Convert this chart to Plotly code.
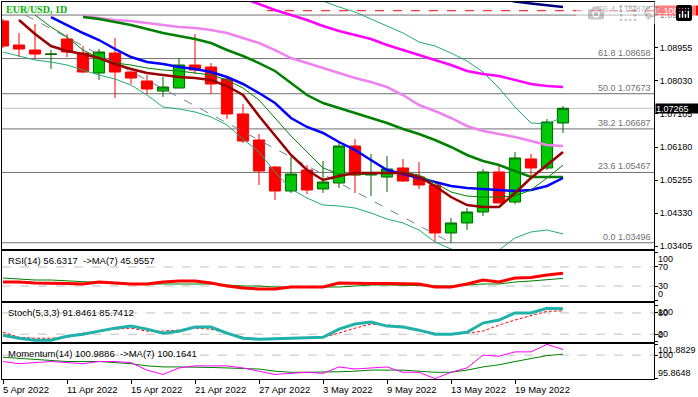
import plotly.graph_objects as go

# ---------------- data ----------------
dates = ["5 Apr 2022", "6 Apr 2022", "7 Apr 2022", "8 Apr 2022",
         "11 Apr 2022", "12 Apr 2022", "13 Apr 2022", "14 Apr 2022", "15 Apr 2022",
         "18 Apr 2022", "19 Apr 2022", "20 Apr 2022", "21 Apr 2022", "22 Apr 2022",
         "25 Apr 2022", "26 Apr 2022", "27 Apr 2022", "28 Apr 2022", "29 Apr 2022",
         "2 May 2022", "3 May 2022", "4 May 2022", "5 May 2022", "6 May 2022",
         "9 May 2022", "10 May 2022", "11 May 2022", "12 May 2022", "13 May 2022",
         "16 May 2022", "17 May 2022", "18 May 2022", "19 May 2022", "20 May 2022",
         "23 May 2022", "24 May 2022"]

open_ = [1.09711, 1.09038, 1.08898, 1.08772, 1.09207, 1.08814, 1.08254, 1.08814, 1.08282,
         1.08030, 1.07749, 1.07833, 1.08478, 1.08422, 1.08086, 1.07105, 1.06376, 1.05619,
         1.04947, 1.05535, 1.05003, 1.05171, 1.06208, 1.05395, 1.05339, 1.05591, 1.05339,
         1.05115, 1.03770, 1.04050, 1.04358, 1.05479, 1.04638, 1.05844, 1.05591, 1.06853]
high = [1.09767, 1.09375, 1.09627, 1.08898, 1.09347, 1.09010, 1.08926, 1.09235, 1.08310,
        1.08198, 1.08142, 1.08674, 1.09347, 1.08534, 1.08114, 1.07385, 1.06544, 1.05647,
        1.05900, 1.05675, 1.05788, 1.06292, 1.06404, 1.05984, 1.05928, 1.05844, 1.05760,
        1.05115, 1.04190, 1.04470, 1.05563, 1.05647, 1.06040, 1.05984, 1.06965, 1.07329]
low = [1.08954, 1.08702, 1.08646, 1.08366, 1.08702, 1.08254, 1.08058, 1.07553, 1.07946,
       1.07665, 1.07581, 1.07833, 1.08226, 1.07665, 1.06965, 1.06292, 1.05115, 1.04694,
       1.04891, 1.04863, 1.04891, 1.05031, 1.04891, 1.04806, 1.04919, 1.05199, 1.05003,
       1.03518, 1.03490, 1.03854, 1.04246, 1.04610, 1.04582, 1.05339, 1.05535, 1.06572]
close = [1.09010, 1.08926, 1.08786, 1.08786, 1.08842, 1.08282, 1.08842, 1.08282, 1.08114,
         1.07805, 1.07861, 1.08478, 1.08338, 1.07946, 1.07105, 1.06348, 1.05507, 1.04947,
         1.05423, 1.04975, 1.05199, 1.06208, 1.05395, 1.05451, 1.05563, 1.05227, 1.05115,
         1.03770, 1.04050, 1.04358, 1.05479, 1.04610, 1.05872, 1.05591, 1.06881, 1.07265]

ma_fast = [None, 1.09739, 1.09347, 1.09010, 1.08870, 1.08786, 1.08674, 1.08506, 1.08366,
           1.08254, 1.08198, 1.08142, 1.08114, 1.08058, 1.07889, 1.07637, 1.07049, 1.06516,
           1.05956, 1.05535, 1.05255, 1.05367, 1.05451, 1.05451, 1.05451, 1.05451, 1.05339,
           1.05087, 1.04778, 1.04554, 1.04498, 1.04498, 1.04891, 1.05311, 1.05675, 1.06040]
ma_thin = [None, None, 1.09879, 1.09543, 1.09263, 1.08898, 1.08674, 1.08534, 1.08478,
           1.08394, 1.08338, 1.08310, 1.08254, 1.08198, 1.08058, 1.07833, 1.07497, 1.06993,
           1.06488, 1.06040, 1.05591, 1.05423, 1.05395, 1.05423, 1.05451, 1.05479, 1.05395,
           1.05171, 1.04919, 1.04806, 1.04778, 1.04778, 1.04806, 1.04975, 1.05311, 1.05675]
ma_blue = [None, None, None, 1.09823, 1.09599, 1.09375, 1.09179, 1.08926, 1.08702,
           1.08562, 1.08506, 1.08422, 1.08366, 1.08282, 1.08142, 1.07946, 1.07693, 1.07413,
           1.06993, 1.06741, 1.06572, 1.06320, 1.06096, 1.05816, 1.05535, 1.05423, 1.05311,
           1.05199, 1.05087, 1.05031, 1.05003, 1.04975, 1.04947, 1.04975, 1.05087, 1.05311]
ma_mid = [None, None, None, None, None, 1.09823, 1.09767, 1.09683, 1.09599,
          1.09487, 1.09375, 1.09291, 1.09207, 1.09094, 1.08898, 1.08730, 1.08534, 1.08310,
          1.07974, 1.07637, 1.07413, 1.07273, 1.07133, 1.06993, 1.06853, 1.06685, 1.06544,
          1.06376, 1.06180, 1.05956, 1.05788, 1.05675, 1.05507, 1.05339, 1.05339, 1.05339]
ma_violet = [None, None, None, None, None, 1.09851, 1.09795, 1.09739, 1.09711,
             1.09655, 1.09599, 1.09543, 1.09515, 1.09459, 1.09375, 1.09235, 1.09094, 1.08898,
             1.08674, 1.08534, 1.08394, 1.08254, 1.08114, 1.08002, 1.07861, 1.07637, 1.07357,
             1.07189, 1.06993, 1.06769, 1.06629, 1.06544, 1.06460, 1.06348, 1.06236, 1.06208]
ma_magenta = [None] * 13 + [1.10692, 1.10524, 1.10356, 1.10188, 1.10019, 1.09879, 1.09739,
                            1.09571, 1.09431, 1.09319, 1.09207, 1.09038, 1.08898, 1.08758,
                            1.08618, 1.08478, 1.08310, 1.08226, 1.08170, 1.08058, 1.07946,
                            1.07889, 1.07861]
ma_navy = [None] * 31 + [1.10356, 1.10258, 1.10202, 1.10146, 1.10103]
bb_upper = [None] * 19 + [1.10384, 1.10272, 1.10103, 1.09963, 1.09767, 1.09571, 1.09375,
                          1.09122, 1.09010, 1.08814, 1.08590, 1.08282, 1.07833, 1.07301,
                          1.06853, 1.06825, 1.07021]
bb_lower = [1.08842, 1.08730, 1.08618, 1.08562, 1.08478, 1.08338, 1.08198, 1.08086, 1.07917,
            1.07637, 1.07301, 1.07245, 1.07161, 1.07021, 1.06797, 1.06404, 1.06040, 1.05479,
            1.05003, 1.04750, 1.04554, 1.04526, 1.04470, 1.04330, 1.04162, 1.04050, 1.03854,
            1.03518, 1.03321, 1.03153, 1.03153, 1.03293, 1.03630, 1.03798, 1.03854, 1.03742]

fib_levels = [0.0, 23.6, 38.2, 50.0, 61.8, 76.4]
fib_prices = [1.03496, 1.05467, 1.06687, 1.07673, 1.08658, 1.09878]
price_ticks = [1.09880, 1.08955, 1.08030, 1.07105, 1.06180, 1.05255, 1.04330, 1.03405]
current_price = 1.07265
alert_price = 1.10000
alert_start = 16.5
trend_x = [1.4, 28.0]
trend_y = [1.09878, 1.03496]

rsi = [38.4, 38.4, 36.3, 36.3, 35.3, 34.2, 38.4, 36.3, 34.2, 34.2, 38.4, 40.5, 40.5, 36.3,
       30.0, 25.8, 23.7, 23.7, 27.9, 27.9, 27.9, 36.3, 35.3, 35.3, 35.3, 34.2, 34.2, 27.9,
       27.9, 34.2, 42.6, 38.4, 46.8, 47.9, 53.2, 56.6317]
rsi_ma = [46.8, 44.7, 42.6, 42.6, 40.5, 38.4, 37.4, 36.3, 34.2, 34.2, 34.2, 34.2, 34.2, 34.2,
          32.1, 30.0, 30.0, 27.9, 27.9, 27.9, 27.9, 27.9, 30.0, 32.1, 32.1, 32.1, 31.0, 30.0,
          30.0, 32.1, 34.2, 34.2, 38.4, 40.5, 43.7, 45.9557]
rsi_levels = [70, 30]
rsi_labels = [100, 70, 30, 0]

stoch_k = [17.1, 8.6, 2.9, 2.9, 14.3, 20.0, 28.6, 37.1, 42.9, 34.3, 22.9, 28.6, 40.0, 40.0,
           22.9, 8.6, 5.7, 7.1, 8.6, 8.6, 11.4, 34.3, 48.6, 54.3, 42.9, 40.0, 31.4, 20.0,
           20.0, 25.7, 51.4, 60.0, 80.0, 80.0, 93.0, 91.8461]
stoch_d = [25.7, 11.4, 8.6, 8.6, 11.4, 22.9, 28.6, 34.3, 37.1, 28.6, 28.6, 31.4, 37.1, 34.3,
           22.9, 11.4, 5.7, 5.7, 8.6, 8.6, 11.4, 22.9, 37.1, 48.6, 45.7, 42.9, 31.4, 22.9,
           20.0, 22.9, 28.6, 45.7, 60.0, 71.4, 84.5, 85.7412]
stoch_levels = [80, 20]
stoch_labels = [100, 80, 20, 0]

mom = [98.87, 98.49, 98.68, 98.87, 98.68, 98.49, 98.87, 98.87, 98.68, 97.36, 96.60, 97.74,
       98.11, 98.11, 98.11, 97.74, 97.17, 96.60, 96.79, 96.98, 96.79, 97.92, 97.55, 97.74,
       97.92, 96.98, 96.98, 95.8648, 96.98, 97.74, 100.00, 99.81, 100.57, 100.57, 101.8829,
       100.9886]
mom_ma = [99.62, 99.43, 99.25, 99.06, 98.87, 98.87, 98.87, 98.68, 98.49, 98.11, 97.92, 97.92,
          97.92, 97.83, 97.74, 97.64, 97.55, 97.17, 96.98, 96.98, 96.98, 97.08, 97.17, 97.36,
          97.36, 97.36, 97.17, 96.98, 96.98, 97.36, 97.92, 98.30, 98.87, 99.43, 99.91, 100.1641]
mom_levels = [100]
mom_labels = ["101.8829", "100", "95.8648"]
mom_label_vals = [101.8829, 100, 95.8648]

# ---------------- figure ----------------
W, H = 698, 397
ML, MR, MT, MB = 2, 44, 2, 18
PH = H - MT - MB


def dom(top_px, bot_px):
    return [(H - MB - bot_px) / PH, (H - MB - top_px) / PH]


n = len(dates)
idx = list(range(n))
label_idx = idx[::4]
XR = [-0.0625, 40.6875]
FONT = "Liberation Sans"

fig = go.Figure()

fig.add_trace(go.Candlestick(
    x=idx, open=open_, high=high, low=low, close=close,
    increasing=dict(line=dict(color="#006400", width=1), fillcolor="#00c800"),
    decreasing=dict(line=dict(color="#ff0000", width=1), fillcolor="#ff0000"),
    whiskerwidth=0, hoverinfo="skip", showlegend=False, xaxis="x", yaxis="y"))


def line(y, color, width, dash="solid", xa="x", ya="y", x=None):
    fig.add_trace(go.Scatter(x=idx if x is None else x, y=y, mode="lines",
                             line=dict(color=color, width=width, dash=dash),
                             hoverinfo="skip", showlegend=False, connectgaps=False,
                             xaxis=xa, yaxis=ya))


line(bb_upper, "#22aa77", 1)
line(bb_lower, "#22aa77", 1)
line(trend_y, "#708090", 1, dash="dash", x=trend_x)
line([alert_price, alert_price], "#ff0000", 1, dash="dash", x=[alert_start, XR[1]])
line(ma_navy, "#000080", 2.5)
line(ma_magenta, "#ff00ff", 2.5)
line(ma_violet, "#ee82ee", 2.5)
line(ma_mid, "#008000", 2.5)
line(ma_blue, "#0000ff", 2.5)
line(ma_thin, "#008000", 1)
line(ma_fast, "#990000", 2.5)

line(rsi_ma, "#008000", 1, xa="x2", ya="y2")
line(rsi, "#ff0000", 3, xa="x2", ya="y2")
line(stoch_d, "#ff0000", 1, dash="3px,2px", xa="x3", ya="y3")
line(stoch_k, "#20b2aa", 3, xa="x3", ya="y3")
line(mom_ma, "#008000", 1, xa="x4", ya="y4")
line(mom, "#ff00ff", 1, xa="x4", ya="y4")

common_x = dict(range=XR, showgrid=False, zeroline=False, showline=True, mirror=True,
                linecolor="black", linewidth=1, showticklabels=False, ticks="",
                fixedrange=True)
common_y = dict(showgrid=False, zeroline=False, showline=True, mirror=True,
                linecolor="black", linewidth=1, side="right", fixedrange=True,
                ticks="outside", ticklen=3, tickcolor="black")

fig.update_layout(
    width=W, height=H, margin=dict(l=ML, r=MR, t=MT, b=MB),
    paper_bgcolor="white", plot_bgcolor="white", showlegend=False, hovermode=False,
    boxgap=0.3, boxgroupgap=0,
    font=dict(family=FONT, size=9, color="black"),
    xaxis=dict(common_x, anchor="y", rangeslider=dict(visible=False)),
    xaxis2=dict(common_x, anchor="y2"),
    xaxis3=dict(common_x, anchor="y3"),
    xaxis4=dict(common_x, anchor="y4", ticks="outside", tickvals=label_idx, ticklen=4,
                tickcolor="black"),
    yaxis=dict(common_y, anchor="x", domain=dom(2, 249), range=[1.03321, 1.10244],
               tickvals=price_ticks, ticktext=[f"{v:.5f}" for v in price_ticks],
               tickfont=dict(family=FONT, size=9, color="black")),
    yaxis2=dict(common_y, anchor="x2", domain=dom(251, 301), range=[-1.5, 103.5],
                tickvals=rsi_labels, showticklabels=False),
    yaxis3=dict(common_y, anchor="x3", domain=dom(303, 342), range=[-2, 108],
                tickvals=stoch_labels, showticklabels=False),
    yaxis4=dict(common_y, anchor="x4", domain=dom(344, 379), range=[95.80, 101.95],
                tickvals=mom_label_vals, showticklabels=False),
)

shapes = []
for p in fib_prices:
    shapes.append(dict(type="line", xref="x domain", yref="y", x0=0, x1=1, y0=p, y1=p,
                       line=dict(color="#707070", width=1), layer="below"))
shapes.append(dict(type="line", xref="x domain", yref="y", x0=0, x1=1, y0=current_price,
                   y1=current_price, line=dict(color="#c0c0c0", width=1), layer="below"))
for ya, levels in (("y2", rsi_levels), ("y3", stoch_levels), ("y4", mom_levels)):
    xa = "x" + ya[1:]
    for lv in levels:
        shapes.append(dict(type="line", xref=xa + " domain", yref=ya, x0=0, x1=1, y0=lv,
                           y1=lv, line=dict(color="#c0c0c0", width=1, dash="dash"),
                           layer="below"))
fig.update_layout(shapes=shapes)

ann = []
ann.append(dict(text="<b>EUR/USD, 1D</b>", xref="paper", yref="paper", x=0, y=1,
                xanchor="left", yanchor="top", xshift=2, yshift=0, showarrow=False,
                font=dict(family="Liberation Serif", size=10, color="#00b400")))
for lv, p in zip(fib_levels, fib_prices):
    ann.append(dict(text=f"{lv:.1f} {p:.5f}", xref="paper", yref="y", x=1, y=p,
                    xanchor="right", yanchor="bottom", xshift=-1, yshift=-1,
                    showarrow=False, font=dict(family=FONT, size=9, color="#707070")))
for p, bg in ((alert_price, "#ff0000"), (current_price, "#000000")):
    ann.append(dict(text=f"{p:.5f}", xref="paper", yref="y", x=1, y=p, xanchor="left",
                    yanchor="middle", xshift=1, showarrow=False, bgcolor=bg,
                    width=44, height=9, align="left", borderpad=0,
                    font=dict(family=FONT, size=9, color="white")))


def side_labels(vals, texts, ya):
    vmax, vmin = max(vals), min(vals)
    for v, t in zip(vals, texts):
        anc = "top" if v == vmax else ("bottom" if v == vmin else "middle")
        ann.append(dict(text=str(t), xref="paper", yref=ya, x=1, y=v, xanchor="left",
                        yanchor=anc, xshift=3, showarrow=False, borderpad=0,
                        font=dict(family=FONT, size=9, color="black")))


side_labels(rsi_labels, rsi_labels, "y2")
side_labels(stoch_labels, stoch_labels, "y3")
side_labels(mom_label_vals, mom_labels, "y4")

panel_titles = [
    (f"RSI(14) {rsi[-1]:.4f} \u00a0->MA(7) {rsi_ma[-1]:.4f}", "y2 domain"),
    (f"Stoch(5,3,3) {stoch_k[-1]:.4f} {stoch_d[-1]:.4f}", "y3 domain"),
    (f"Momentum(14) {mom[-1]:.4f} \u00a0->MA(7) {mom_ma[-1]:.4f}", "y4 domain"),
]
for t, yr in panel_titles:
    ann.append(dict(text=t, xref="paper", yref=yr, x=0, y=1, xanchor="left",
                    yanchor="top", xshift=4, yshift=-2, showarrow=False,
                    font=dict(family=FONT, size=9.5, color="black")))

for i in label_idx:
    ann.append(dict(text=dates[i], xref="x4", yref="paper", x=i, y=0, xanchor="left",
                    yanchor="top", xshift=-2, yshift=-3, showarrow=False,
                    font=dict(family=FONT, size=9.5, color="black")))

fig.update_layout(annotations=ann)
fig.write_html("out.html",
               post_script="document.body.style.margin='0';document.body.style.padding='0';")
